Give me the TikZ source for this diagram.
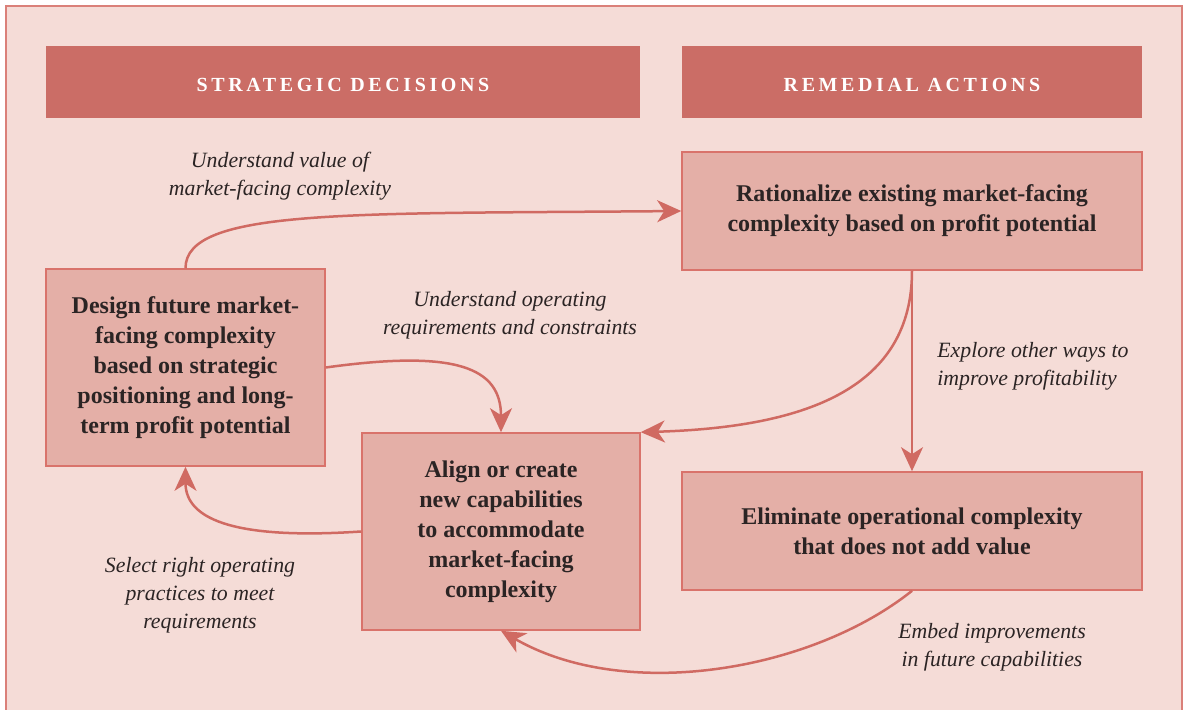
\documentclass[tikz,border=0pt]{standalone}
\usepackage{fontspec}
\setmainfont{Liberation Serif}
\usetikzlibrary{arrows.meta}
\definecolor{frameFill}{HTML}{F5DCD7}
\definecolor{frameLine}{HTML}{DA8079}
\definecolor{headFill}{HTML}{CB6D66}
\definecolor{boxFill}{HTML}{E4AFA7}
\definecolor{boxLine}{HTML}{D9736B}
\definecolor{arrowLine}{HTML}{D06A62}
\definecolor{textDark}{HTML}{2B2424}
\newcommand{\pxUnit}{0.5pt}
\newcommand{\boxFont}{\fontsize{12}{15}\selectfont\bfseries}
\newcommand{\noteFont}{\fontsize{10.9}{14}\selectfont\itshape}

\begin{document}
\begin{tikzpicture}[x=\pxUnit, y=-\pxUnit,
    header/.style={fill=headFill, draw=none, text=white, text height=10pt, font=\fontsize{10}{12}\selectfont\bfseries\addfontfeature{LetterSpace=18}},
    stepbox/.style={fill=boxFill, draw=boxLine, line width=0.8pt, text=textDark, align=center, font=\boxFont, inner sep=0pt},
    note/.style={text=textDark, align=center, font=\noteFont, inner sep=0pt},
    flow/.style={draw=arrowLine, line width=1.25pt, -{Stealth[length=12pt,width=11pt,inset=3.5pt]}}]
\useasboundingbox (0,0) rectangle (1184,710);
\draw[fill=frameFill, draw=frameLine, line width=0.8pt] (6,6) rectangle (1182,730);
\node[header, minimum width=297pt, minimum height=36pt] (hstrat) at (343,82) {STRATEGIC DECISIONS};
\node[header, minimum width=230pt, minimum height=36pt] (hremed) at (912,82) {REMEDIAL ACTIONS};
\node[stepbox, minimum width=230pt, minimum height=59pt] (ratio) at (912,211) {Rationalize existing market-facing\\complexity based on profit potential};
\node[stepbox, minimum width=139.5pt, minimum height=98.5pt] (design) at (185.5,367.5) {Design future market-\\facing complexity\\based on strategic\\positioning and long-\\term profit potential};
\node[stepbox, minimum width=139pt, minimum height=98.5pt] (align) at (501,531.5) {Align or create\\new capabilities\\to accommodate\\market-facing\\complexity};
\node[stepbox, minimum width=230pt, minimum height=59pt] (elim) at (912,531) {Eliminate operational complexity\\that does not add value};
\node[note] (nvalue) at (280,176) {Understand value of\\market-facing complexity};
\node[note] (noper) at (510,315) {Understand operating\\requirements and constraints};
\node[note, anchor=west, align=left] (nexplore) at (937,366) {Explore other ways to\\improve profitability};
\node[note] (nselect) at (200,595) {Select right operating\\practices to meet\\requirements};
\node[note] (nembed) at (992,647) {Embed improvements\\in future capabilities};
\draw[flow] (design.north) .. controls +(0,-60) and +(-330,3) .. (ratio.west);
\draw[flow] (design.east) .. controls +(130,-18) and +(0,-65) .. (align.north);
\draw[flow] (ratio.south) .. controls +(0,115) and +(170,-5) .. (align.north east);
\draw[flow] (ratio.south) -- (elim.north);
\draw[flow] (elim.south) .. controls +(-100,80) and +(125,72) .. (align.south);
\draw[flow] (align.west) .. controls +(-120,8) and +(0,55) .. (design.south);
\end{tikzpicture}
\end{document}
